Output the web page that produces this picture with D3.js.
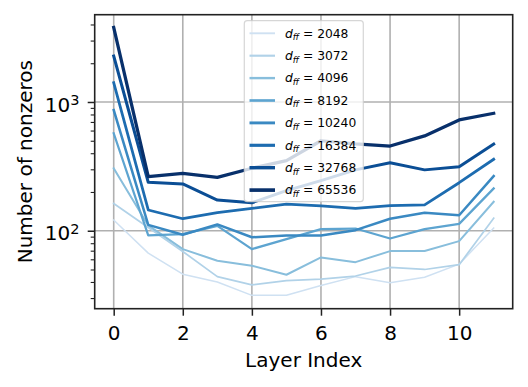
<!DOCTYPE html>
<html>
<head>
<meta charset="utf-8">
<script src="https://cdn.jsdelivr.net/npm/d3@7"></script>
<style>
  body { margin: 0; background: #fff; }
  text { font-family: "DejaVu Sans", sans-serif; fill: #000; }
</style>
</head>
<body>
<script>
// layer index on x, nonzero count (log scale) on y, one line per d_ff
const layers = [0, 1, 2, 3, 4, 5, 6, 7, 8, 9, 10, 11];
const dffs = [2048, 3072, 4096, 8192, 10240, 16384, 32768, 65536];

const d2048  = [121, 67, 46, 40, 31.5, 31.5, 37.5, 44, 39.5, 43.5, 55, 105];
const d3072  = [163, 106, 69, 44, 38, 41, 42, 44.5, 52, 50, 54.5, 125];
const d4096  = [305, 110, 72, 58.5, 53.5, 45.5, 62, 57, 69.5, 69.5, 83, 168];
const d8192  = [571, 92, 94, 109, 72, 86, 103, 104, 87, 103, 113, 213];
const d10240 = [867, 111, 93, 112, 89, 92, 92, 101, 124, 138, 132, 266];
const d16384 = [1412, 145, 124, 138, 149, 161, 156, 149, 157, 159, 236, 359];
const d32768 = [2276, 238, 231, 173, 165, 205, 245, 297, 337, 297, 314, 472];
const d65536 = [3800, 263, 279, 260, 306, 350, 500, 472, 455, 545, 725, 817];

const seriesValues = [d2048, d3072, d4096, d8192, d10240, d16384, d32768, d65536];
const xTicks = [0, 2, 4, 6, 8, 10];
const yMajor = [100, 1000];
const yMinor = [30, 40, 50, 60, 70, 80, 90, 200, 300, 400, 500, 600, 700, 800, 900, 2000, 3000, 4000];

const width = 528, height = 387;
const box = { left: 94.7, right: 512.7, top: 14.7, bottom: 308.7 };

const svg = d3.select("body").append("svg")
  .attr("width", width)
  .attr("height", height);

const x = d3.scaleLinear().domain([-0.55, 11.55]).range([box.left, box.right]);
const y = d3.scaleLog().domain([24.8, 4764]).range([box.bottom, box.top]);

const color = d3.scaleOrdinal()
  .domain(dffs)
  .range(dffs.map((d, i) => d3.interpolateBlues(0.2 + 0.8 * i / (dffs.length - 1))));
const lw = i => 1.5 + 0.25 * i;

// grid
const grid = svg.append("g").attr("stroke", "#b0b0b0").attr("stroke-width", 1.6);
grid.selectAll("line.gx").data(xTicks).enter().append("line")
  .attr("x1", d => x(d)).attr("x2", d => x(d))
  .attr("y1", box.top).attr("y2", box.bottom);
grid.selectAll("line.gy").data(yMajor).enter().append("line")
  .attr("y1", d => y(d)).attr("y2", d => y(d))
  .attr("x1", box.left).attr("x2", box.right);

// lines
svg.append("clipPath").attr("id", "clip").append("rect")
  .attr("x", box.left).attr("y", box.top)
  .attr("width", box.right - box.left).attr("height", box.bottom - box.top);

const line = d3.line().x((d, i) => x(layers[i])).y(d => y(d));

svg.append("g").attr("clip-path", "url(#clip)")
  .selectAll("path")
  .data(seriesValues)
  .enter()
  .append("path")
    .attr("d", d => line(d))
    .attr("fill", "none")
    .attr("stroke", (d, i) => color(dffs[i]))
    .attr("stroke-width", (d, i) => lw(i))
    .attr("stroke-linejoin", "round")
    .attr("stroke-linecap", "square");

// x axis
const xAxis = d3.axisBottom(x).tickValues(xTicks).tickSize(7).tickPadding(10).tickSizeOuter(0);
svg.append("g")
  .attr("transform", `translate(0,${box.bottom})`)
  .call(xAxis)
  .call(g => g.select(".domain").remove())
  .call(g => g.selectAll("line").attr("stroke", "#222").attr("stroke-width", 1.5))
  .call(g => g.selectAll("text").attr("font-size", 20).attr("font-family", "DejaVu Sans").attr("fill", "#000"));

// y axis minor + major ticks
svg.append("g")
  .attr("transform", `translate(${box.left},0)`)
  .call(d3.axisLeft(y).tickValues(yMinor).tickSize(4).tickFormat(""))
  .call(g => g.select(".domain").remove())
  .call(g => g.selectAll("line").attr("stroke", "#222").attr("stroke-width", 1.1));

svg.append("g")
  .attr("transform", `translate(${box.left},0)`)
  .call(d3.axisLeft(y).tickValues(yMajor).tickSize(7).tickFormat(""))
  .call(g => g.select(".domain").remove())
  .call(g => g.selectAll("line").attr("stroke", "#222").attr("stroke-width", 1.5));

const yLab = svg.append("g").selectAll("text")
  .data(yMajor)
  .enter()
  .append("text")
    .attr("x", 79.5)
    .attr("y", d => y(d) + 9.7)
    .attr("text-anchor", "end")
    .attr("font-size", 20);
yLab.append("tspan").text("10");
yLab.append("tspan")
  .attr("font-size", 14.5)
  .attr("dy", -6.8)
  .text(d => String(Math.round(Math.log10(d))));

// spines
svg.append("rect")
  .attr("x", box.left).attr("y", box.top)
  .attr("width", box.right - box.left).attr("height", box.bottom - box.top)
  .attr("fill", "none").attr("stroke", "#222").attr("stroke-width", 1.6);

// axis labels
svg.append("text")
  .attr("x", (box.left + box.right) / 2)
  .attr("y", 366.5)
  .attr("text-anchor", "middle")
  .attr("font-size", 20)
  .text("Layer Index");

svg.append("text")
  .attr("transform", `translate(31.5,${(box.top + box.bottom) / 2}) rotate(-90)`)
  .attr("text-anchor", "middle")
  .attr("font-size", 20)
  .text("Number of nonzeros");

// legend
const legend = svg.append("g");
legend.append("rect")
  .attr("x", 244.3).attr("y", 20.7)
  .attr("width", 119).attr("height", 181)
  .attr("rx", 3)
  .attr("fill", "#fff").attr("fill-opacity", 0.8)
  .attr("stroke", "#cccccc").attr("stroke-opacity", 0.8).attr("stroke-width", 1.2);

const rowY = i => 33.3 + 22.4 * i;
const items = legend.selectAll("g.item")
  .data(dffs)
  .enter()
  .append("g")
    .attr("transform", (d, i) => `translate(0,${rowY(i)})`);

items.append("line")
  .attr("x1", 249.5).attr("x2", 275)
  .attr("stroke", d => color(d))
  .attr("stroke-width", (d, i) => lw(i) + 0.4);

const lt = items.append("text")
  .attr("x", 285)
  .attr("y", 4.3)
  .attr("font-size", 12.3);
lt.append("tspan").attr("font-style", "italic").text("d");
lt.append("tspan").attr("font-style", "italic").attr("font-size", 8.6).attr("dy", 2.6).text("ff");
lt.append("tspan").attr("dy", -2.6).text(d => ` = ${d}`);
</script>
</body>
</html>
